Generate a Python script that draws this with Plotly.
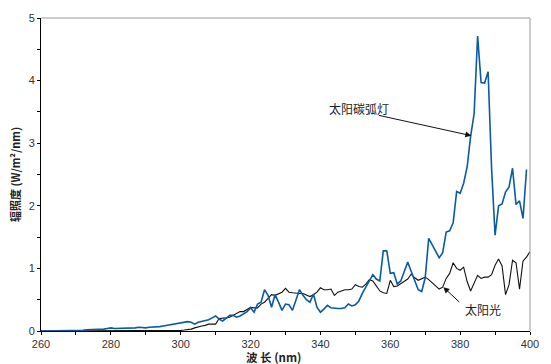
import plotly.graph_objects as go

# Spectral irradiance, W/m^2/nm, at 1 nm steps
wl_arc = list(range(260, 400))
arc_lamp = [
    0.00, 0.00, 0.00, 0.00, 0.00, 0.01, 0.01, 0.01, 0.01, 0.01,  # 260-269
    0.01, 0.01, 0.01, 0.02, 0.02, 0.02, 0.02, 0.02, 0.03, 0.04,  # 270-279
    0.05, 0.04, 0.04, 0.04, 0.05, 0.04, 0.05, 0.05, 0.06, 0.05,  # 280-289
    0.05, 0.06, 0.06, 0.06, 0.07, 0.08, 0.09, 0.10, 0.11, 0.12,  # 290-299
    0.13, 0.14, 0.15, 0.14, 0.11, 0.14, 0.15, 0.17, 0.18, 0.21,  # 300-309
    0.24, 0.19, 0.16, 0.20, 0.25, 0.25, 0.22, 0.24, 0.27, 0.31,  # 310-319
    0.37, 0.30, 0.43, 0.46, 0.66, 0.57, 0.38, 0.58, 0.46, 0.33,  # 320-329
    0.43, 0.42, 0.33, 0.48, 0.66, 0.57, 0.50, 0.46, 0.59, 0.38,  # 330-339
    0.30, 0.35, 0.41, 0.37, 0.36, 0.36, 0.36, 0.37, 0.43, 0.40,  # 340-349
    0.42, 0.48, 0.60, 0.70, 0.80, 0.90, 0.83, 0.80, 1.28, 1.28,  # 350-359
    0.92, 0.93, 0.75, 0.80, 0.95, 1.10, 0.95, 0.80, 0.66, 0.63,  # 360-369
    0.85, 1.48, 1.38, 1.26, 1.17, 1.25, 1.58, 1.60, 1.73, 2.23,  # 370-379
    2.20, 2.36, 2.62, 3.11, 3.47, 4.71, 3.97, 3.96, 4.14, 2.60,  # 380-389
    1.53, 2.00, 2.03, 2.22, 2.30, 2.60, 2.02, 2.08, 1.80, 2.58,  # 390-399
]

wl_sun = list(range(260, 401))
sunlight = [
    0.00, 0.00, 0.00, 0.00, 0.00, 0.00, 0.00, 0.00, 0.00, 0.00,  # 260-269
    0.00, 0.00, 0.00, 0.00, 0.00, 0.00, 0.00, 0.00, 0.00, 0.00,  # 270-279
    0.00, 0.00, 0.00, 0.00, 0.00, 0.00, 0.00, 0.00, 0.00, 0.00,  # 280-289
    0.00, 0.00, 0.00, 0.00, 0.00, 0.00, 0.00, 0.00, 0.00, 0.005,  # 290-299
    0.01, 0.015, 0.02, 0.03, 0.05, 0.07, 0.08, 0.09, 0.11, 0.11,  # 300-309
    0.11, 0.20, 0.20, 0.21, 0.22, 0.25, 0.27, 0.31, 0.31, 0.35,  # 310-319
    0.38, 0.37, 0.37, 0.43, 0.46, 0.52, 0.58, 0.57, 0.59, 0.62,  # 320-329
    0.68, 0.62, 0.61, 0.60, 0.60, 0.60, 0.58, 0.55, 0.58, 0.62,  # 330-339
    0.69, 0.66, 0.66, 0.67, 0.57, 0.62, 0.64, 0.66, 0.66, 0.67,  # 340-349
    0.74, 0.71, 0.70, 0.75, 0.82, 0.80, 0.72, 0.64, 0.61, 0.60,  # 350-359
    0.81, 0.71, 0.72, 0.76, 0.79, 0.83, 0.91, 0.85, 0.81, 0.84,  # 360-369
    0.86, 0.82, 0.77, 0.72, 0.67, 0.70, 0.84, 0.92, 1.09, 1.00,  # 370-379
    0.97, 1.02, 0.79, 0.64, 0.78, 0.89, 0.84, 0.86, 0.86, 0.90,  # 380-389
    1.05, 1.15, 1.04, 0.58, 0.74, 1.13, 1.09, 0.67, 1.12, 1.18,  # 390-399
    1.27,                                                        # 400
]

x_ticks = [260, 280, 300, 320, 340, 360, 380, 400]
y_ticks = [0, 1, 2, 3, 4, 5]

FONT = "Liberation Sans, Arial, Noto Sans CJK SC, sans-serif"
CJK = "Noto Sans CJK SC, Liberation Sans, sans-serif"

fig = go.Figure()
fig.add_trace(go.Scatter(x=wl_sun, y=sunlight, mode="lines",
                         line=dict(color="#111111", width=1.1), name="太阳光"))
fig.add_trace(go.Scatter(x=wl_arc, y=arc_lamp, mode="lines",
                         line=dict(color="#0b5aa6", width=1.6), name="太阳碳弧灯"))

axis_common = dict(
    showgrid=False, zeroline=False, showline=True, linecolor="#000000", linewidth=1,
    ticks="outside", ticklen=3, tickwidth=1, tickcolor="#000000",
    tickfont=dict(family=FONT, size=11, color="#333333"),
)
fig.update_xaxes(range=[260, 400], tickvals=x_ticks,
                 minor=dict(dtick=10, ticks="outside", ticklen=3, tickcolor="#000000"),
                 **axis_common)
fig.update_yaxes(range=[0, 5], tickvals=y_ticks,
                 minor=dict(dtick=0.5, ticks="outside", ticklen=3, tickcolor="#000000"),
                 **axis_common)

# grey frame on top and right
fig.add_shape(type="line", xref="paper", yref="paper", x0=0, x1=1, y0=1, y1=1,
              line=dict(color="#999999", width=1))
fig.add_shape(type="line", xref="paper", yref="paper", x0=1, x1=1, y0=0, y1=1,
              line=dict(color="#999999", width=1))

annotations = [
    # axis titles
    dict(text="<b>波 长 (nm)</b>", xref="paper", yref="paper", x=0.475, y=-0.082,
         xanchor="center", yanchor="middle", showarrow=False,
         font=dict(family=CJK, size=11.5, color="#222222")),
    dict(text="<b>辐照度 (W/m²/nm)</b>", xref="paper", yref="paper", x=-0.054, y=0.50,
         xanchor="center", yanchor="middle", textangle=-90, showarrow=False,
         font=dict(family=CJK, size=11, color="#222222")),
    # series labels
    dict(text="太阳碳弧灯", x=350.9, y=3.55, xref="x", yref="y", showarrow=False,
         font=dict(family=CJK, size=12, color="#222222")),
    dict(text="太阳光", x=386.5, y=0.34, xref="x", yref="y", showarrow=False,
         font=dict(family=CJK, size=12, color="#222222")),
    # pointer arrows
    dict(text="", x=383.2, y=3.12, ax=356.3, ay=3.45, xref="x", yref="y",
         axref="x", ayref="y", showarrow=True, arrowhead=2, arrowsize=1.2,
         arrowwidth=1, arrowcolor="#111111", standoff=0),
    dict(text="", x=375.2, y=0.70, ax=380.2, ay=0.44, xref="x", yref="y",
         axref="x", ayref="y", showarrow=True, arrowhead=2, arrowsize=1.2,
         arrowwidth=1, arrowcolor="#111111", standoff=0),
]

fig.update_layout(
    width=551, height=364,
    margin=dict(l=41, r=15, t=13, b=33),
    plot_bgcolor="#ffffff", paper_bgcolor="#ffffff",
    showlegend=False,
    annotations=annotations,
    font=dict(family=FONT),
)

fig.write_html("out.html")
